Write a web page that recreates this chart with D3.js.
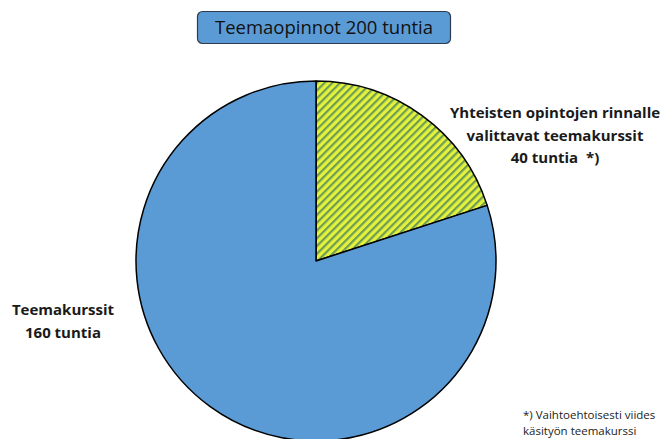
<!DOCTYPE html>
<html>
<head>
<meta charset="utf-8">
<script src="https://cdn.jsdelivr.net/npm/d3@7"></script>
<style>
  body { margin: 0; background: #fff; }
  text { font-family: "Open Sans", "Liberation Sans", sans-serif; }
</style>
</head>
<body>
<svg id="chart" width="667" height="439"></svg>
<script>
// data
const titleText = "Teemaopinnot 200 tuntia";
const slices = ["valittavat", "teemakurssit"];
const hours = [40, 160];
const labelLines = [
  ["Yhteisten opintojen rinnalle", "valittavat teemakurssit", "40 tuntia  *)"],
  ["Teemakurssit", "160 tuntia"]
];
const footnote = ["*) Vaihtoehtoisesti viides", "käsityön teemakurssi"];

const svg = d3.select("#chart");
const cx = 316, cy = 261, radius = 180;

// hatch pattern for the small slice
const defs = svg.append("defs");
const pat = defs.append("pattern")
  .attr("id", "hatch")
  .attr("patternUnits", "userSpaceOnUse")
  .attr("width", 5.5).attr("height", 5.5)
  .attr("patternTransform", "rotate(45)");
pat.append("rect").attr("width", 5.5).attr("height", 5.5).attr("fill", "#e4f23c");
pat.append("rect").attr("width", 2.2).attr("height", 5.5).attr("fill", "#6e9c55");

const fills = ["url(#hatch)", "#5b9bd5"];

const pie = d3.pie().sort(null).value(d => d);
const arc = d3.arc().outerRadius(radius).innerRadius(0);

const g = svg.append("g").attr("transform", `translate(${cx}, ${cy})`);
g.selectAll(".arc").data(pie(hours)).enter().append("path")
  .attr("class", "arc")
  .attr("d", arc)
  .attr("fill", (d, i) => fills[i])
  .attr("stroke", "#000")
  .attr("stroke-width", 1.5)
  .attr("stroke-linejoin", "round");

// title box
svg.append("rect")
  .attr("x", 197.5).attr("y", 11.5).attr("width", 253).attr("height", 32)
  .attr("rx", 5).attr("fill", "#5b9bd5")
  .attr("stroke", "#2f3b4c").attr("stroke-width", 1.2);
svg.append("text")
  .attr("x", 324).attr("y", 34)
  .attr("text-anchor", "middle")
  .attr("font-size", 18.5)
  .attr("fill", "#111")
  .text(titleText);

// slice labels
const labelPos = [{x: 555, y: 118}, {x: 63, y: 315}];
labelLines.forEach((lines, i) => {
  const t = svg.append("text")
    .attr("text-anchor", "middle")
    .attr("font-size", 15)
    .attr("font-weight", "bold")
    .attr("fill", "#1a1a1a");
  lines.forEach((l, j) => {
    t.append("tspan")
      .attr("x", labelPos[i].x)
      .attr("y", labelPos[i].y + j * 22.5)
      .attr("xml:space", "preserve")
      .text(l);
  });
});

// footnote
const fn = svg.append("text").attr("font-size", 11.5).attr("fill", "#222");
footnote.forEach((l, j) => {
  fn.append("tspan").attr("x", 523).attr("y", 419 + j * 16).text(l);
});
</script>
</body>
</html>
